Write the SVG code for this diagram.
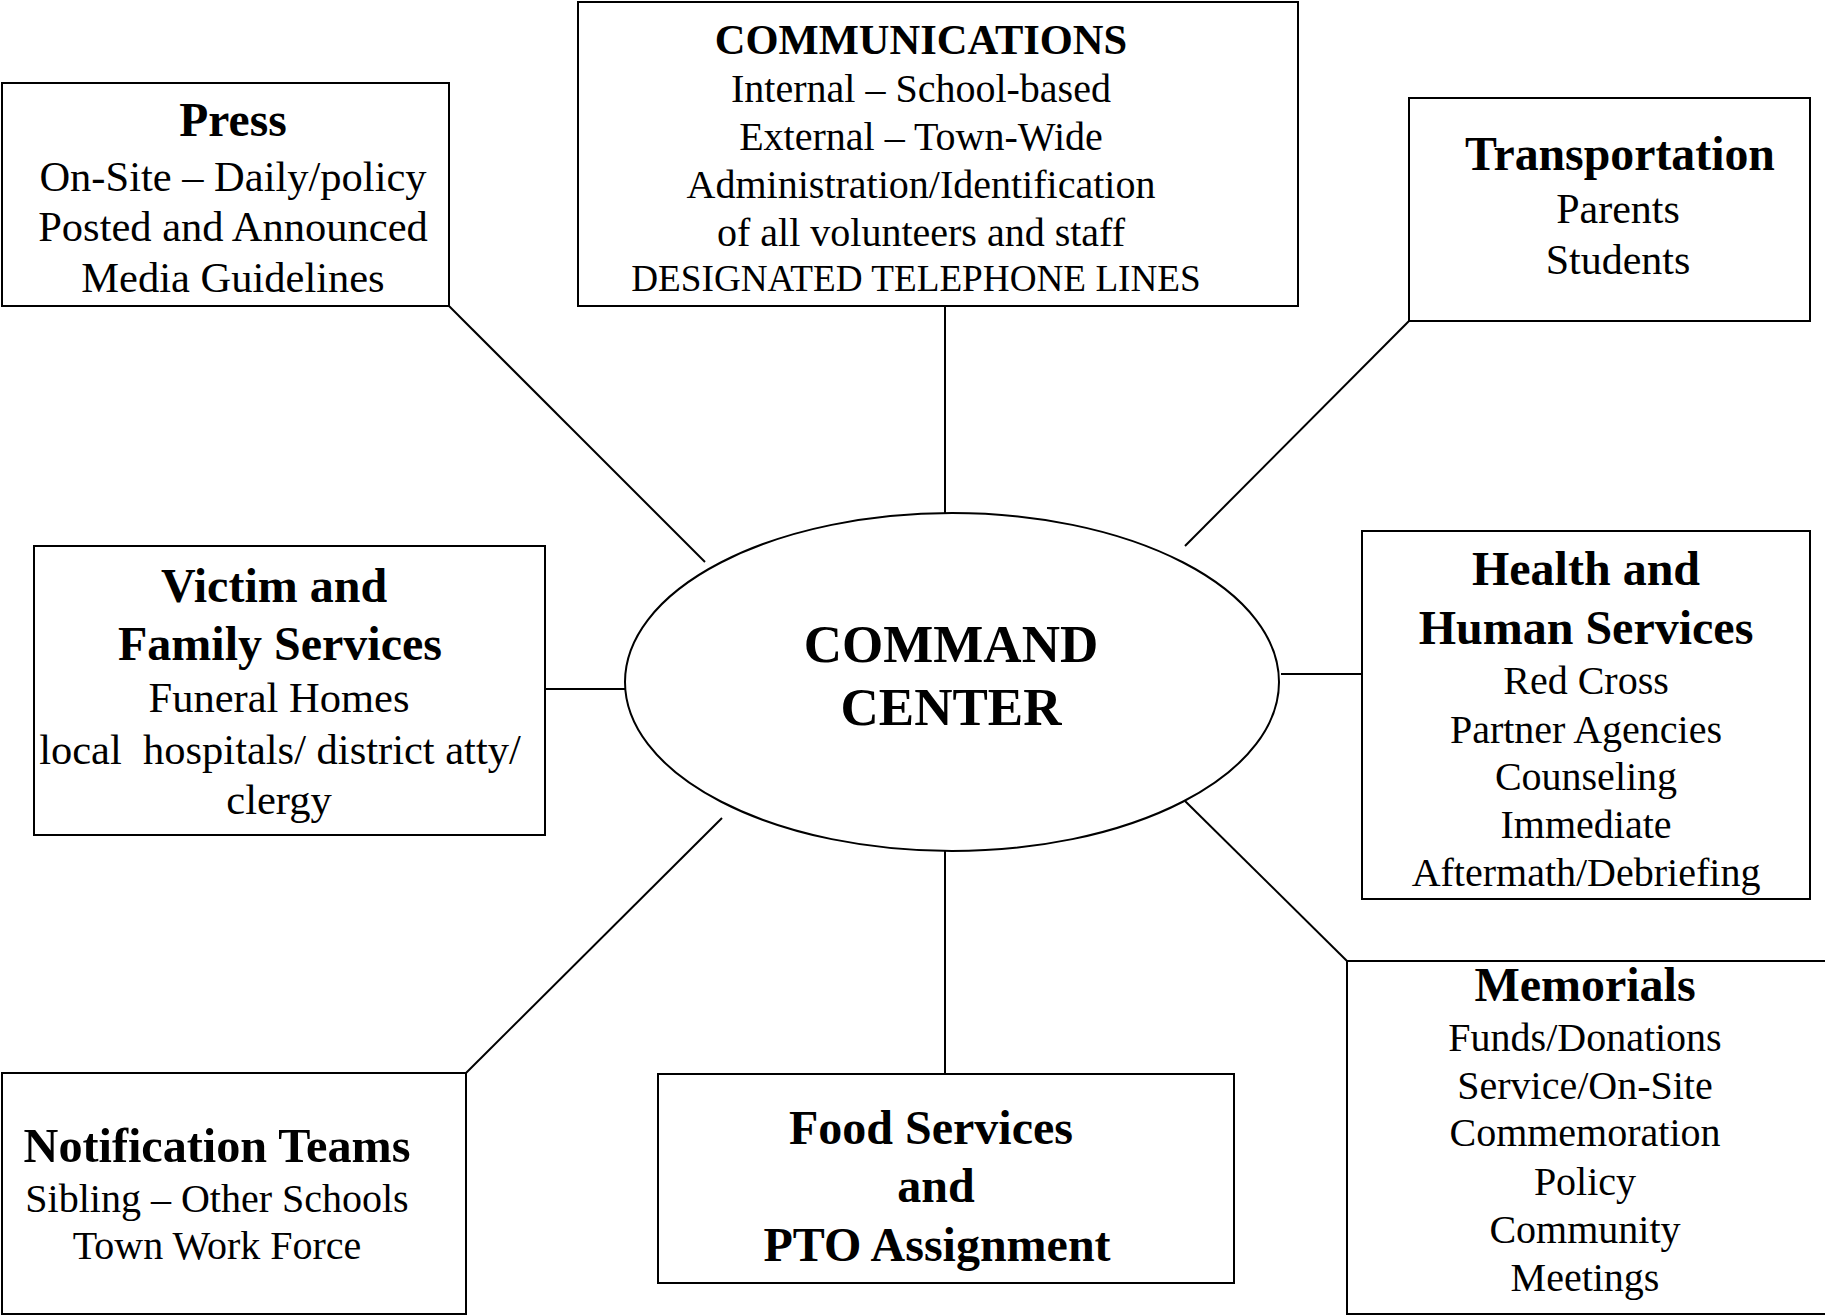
<svg xmlns="http://www.w3.org/2000/svg" width="1825" height="1316" viewBox="0 0 1825 1316">
<style>
.box{fill:#fff;stroke:#000;stroke-width:2}
.t{font-family:"Liberation Serif","Times New Roman",serif;text-anchor:middle;fill:#000}
.b{font-weight:bold}
.con line{stroke:#000;stroke-width:2}
</style>
<rect width="1825" height="1316" fill="#fff"/>
<g class="con" id="connectors">
<line x1="449" y1="306" x2="705" y2="562"/>
<line x1="945" y1="306" x2="945" y2="513"/>
<line x1="1409" y1="321" x2="1185" y2="546"/>
<line x1="1281" y1="674" x2="1362" y2="674"/>
<line x1="545" y1="689" x2="626" y2="689"/>
<line x1="1185" y1="801" x2="1347" y2="961"/>
<line x1="945" y1="851" x2="945" y2="1074"/>
<line x1="722" y1="818" x2="466" y2="1073"/>
</g>
<g id="press">
<rect class="box" x="2" y="83" width="447" height="223"/>
<text class="t b" x="233" y="136" font-size="47.5">Press</text>
<text class="t" x="233" y="191" font-size="42.5">On-Site – Daily/policy</text>
<text class="t" x="233" y="241" font-size="42.5">Posted and Announced</text>
<text class="t" x="233" y="292" font-size="42.5">Media Guidelines</text>
</g>
<g id="communications">
<rect class="box" x="578" y="2" width="720" height="304"/>
<text class="t b" x="921" y="54" font-size="42.5">COMMUNICATIONS</text>
<text class="t" x="921" y="102" font-size="40">Internal – School-based</text>
<text class="t" x="921" y="150" font-size="40">External – Town-Wide</text>
<text class="t" x="921" y="198" font-size="40">Administration/Identification</text>
<text class="t" x="921" y="246" font-size="40">of all volunteers and staff</text>
<text class="t" x="916" y="291" font-size="37.2">DESIGNATED TELEPHONE LINES</text>
</g>
<g id="transportation">
<rect class="box" x="1409" y="98" width="401" height="223"/>
<text class="t b" x="1620" y="170" font-size="47.8">Transportation</text>
<text class="t" x="1618" y="223" font-size="42">Parents</text>
<text class="t" x="1618" y="274" font-size="42">Students</text>
</g>
<g id="health">
<rect class="box" x="1362" y="531" width="448" height="368"/>
<text class="t b" x="1586" y="585" font-size="48">Health and</text>
<text class="t b" x="1586" y="644" font-size="48">Human Services</text>
<text class="t" x="1586" y="694" font-size="40">Red Cross</text>
<text class="t" x="1586" y="743" font-size="40">Partner Agencies</text>
<text class="t" x="1586" y="790" font-size="40">Counseling</text>
<text class="t" x="1586" y="838" font-size="40">Immediate</text>
<text class="t" x="1586" y="886" font-size="40">Aftermath/Debriefing</text>
</g>
<g id="victim">
<rect class="box" x="34" y="546" width="511" height="289"/>
<text class="t b" x="274" y="602" font-size="48">Victim and</text>
<text class="t b" x="280" y="660" font-size="48">Family Services</text>
<text class="t" x="279" y="712" font-size="42.5">Funeral Homes</text>
<text class="t" x="280" y="764" font-size="42.5" xml:space="preserve">local  hospitals/ district atty/</text>
<text class="t" x="279" y="814" font-size="42.5">clergy</text>
</g>
<g id="command">
<ellipse class="box" cx="952" cy="682" rx="327" ry="169"/>
<text class="t b" x="951" y="662" font-size="53">COMMAND</text>
<text class="t b" x="951" y="725" font-size="53">CENTER</text>
</g>
<g id="notification">
<rect class="box" x="2" y="1073" width="464" height="241"/>
<text class="t b" x="217" y="1162" font-size="48.2">Notification Teams</text>
<text class="t" x="217" y="1212" font-size="40">Sibling – Other Schools</text>
<text class="t" x="217" y="1259" font-size="40">Town Work Force</text>
</g>
<g id="food">
<rect class="box" x="658" y="1074" width="576" height="209"/>
<text class="t b" x="931" y="1144" font-size="48">Food Services</text>
<text class="t b" x="936" y="1202" font-size="48">and</text>
<text class="t b" x="937" y="1261" font-size="48">PTO Assignment</text>
</g>
<g id="memorials">
<rect class="box" x="1347" y="961" width="490" height="353"/>
<text class="t b" x="1585" y="1001" font-size="48">Memorials</text>
<text class="t" x="1585" y="1051" font-size="40">Funds/Donations</text>
<text class="t" x="1585" y="1099" font-size="40">Service/On-Site</text>
<text class="t" x="1585" y="1146" font-size="40">Commemoration</text>
<text class="t" x="1585" y="1195" font-size="40">Policy</text>
<text class="t" x="1585" y="1243" font-size="40">Community</text>
<text class="t" x="1585" y="1291" font-size="40">Meetings</text>
</g>
</svg>
